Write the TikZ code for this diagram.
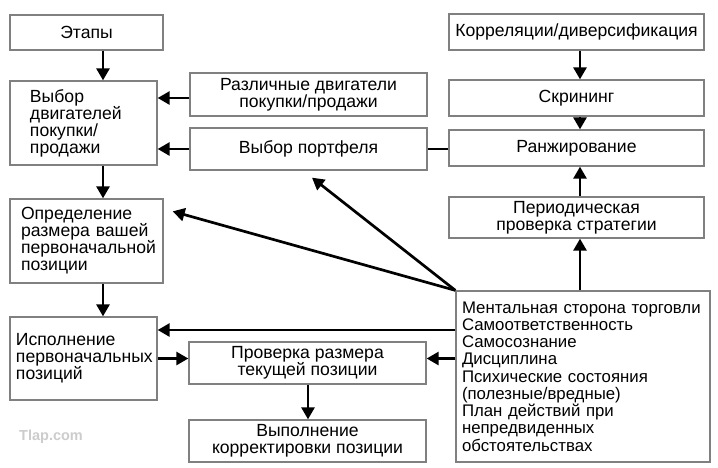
\documentclass[tikz,border=0pt]{standalone}
\usepackage{fontspec}
\setmainfont{Liberation Sans}
\usetikzlibrary{arrows.meta,calc}
\begin{document}
\begin{tikzpicture}[x=1pt,y=-1pt,
  box/.style={draw=black!50,line width=1.3pt,rectangle,inner sep=0pt,
    font=\fontsize{17.6}{17}\selectfont},
  cbox/.style={box,align=center},
  lbox/.style={box,align=left,inner ysep=0pt},
  arr/.style={line width=2.7pt,-{Triangle[length=12pt,width=13pt]}},
  ln/.style={line width=2.7pt}]
\useasboundingbox (0,0) rectangle (718,467);
% boxes
\node[cbox,minimum width=153,minimum height=35] (A) at (86.5,32.5) {Этапы};
\node[lbox,minimum height=84,inner xsep=20pt,text width=107pt] (B) at (83.5,123)
  {Выбор\\двигателей\\покупки/\\продажи};
\node[cbox,minimum width=237,minimum height=43] (C) at (308.5,94.5)
  {Различные двигатели\\покупки/продажи};
\node[cbox,minimum width=237,minimum height=42] (D) at (308.5,149) {Выбор портфеля};
\node[lbox,minimum height=84,inner xsep=11pt,text width=131pt] (E) at (86.5,241)
  {Определение\\размера~вашей\\первоначальной\\позиции};
\node[lbox,minimum height=83,inner xsep=6pt,text width=135pt] (F) at (83.5,358.5)
  {Исполнение\\первоначальных\\позиций};
\node[cbox,minimum width=237,minimum height=42] (G) at (307.5,363)
  {Проверка размера\\текущей позиции};
\node[cbox,minimum width=237,minimum height=42] (H) at (307.5,441)
  {Выполнение\\корректировки позиции};
\node[cbox,minimum width=255,minimum height=36] (I) at (576.5,32) {Корреляции/диверсификация};
\node[cbox,minimum width=255,minimum height=36] (J) at (576.5,98) {Скрининг};
\node[cbox,minimum width=255,minimum height=36] (K) at (576.5,148) {Ранжирование};
\node[cbox,minimum width=255,minimum height=41] (L) at (576.5,217.5)
  {Периодическая\\проверка стратегии};
\node[lbox,minimum height=171,inner xsep=6pt,text width=242pt,
  font=\fontsize{16.8}{17.25}\selectfont] (M) at (583,376.5)
  {Ментальная~сторона~торговли\\Самоответственность\\Самосознание\\Дисциплина\\
   Психические~состояния\\(полезные/вредные)\\План~действий~при\\непредвиденных\\обстоятельствах};
\node[font=\bfseries\fontsize{14.5}{14.5}\selectfont,text=black!20,inner sep=0pt,anchor=west] (wm) at (19,437) {Tlap.com};
% guide coordinates
\coordinate (colL) at (103,0);
\coordinate (colM) at (308,0);
\coordinate (colR) at (580,0);
\coordinate (rowC) at (0,98);
\coordinate (rowMF) at (0,330);
% connectors
\draw[arr] (colL |- A.south) -- (colL |- B.north);
\draw[arr] (colL |- B.south) -- (colL |- E.north);
\draw[arr] (colL |- E.south) -- (colL |- F.north);
\draw[arr] (rowC -| C.west) -- (rowC -| B.east);
\draw[arr] (D.west) -- (D.west -| B.east);
\draw[ln] (D.east) -- (D.east -| K.west);
\draw[arr] (F.east) -- (F.east -| G.west);
\draw[arr] (F.east -| M.west) -- (F.east -| G.east);
\draw[arr] (rowMF -| M.west) -- (rowMF -| F.east);
\draw[arr] (M.north west) -- ([xshift=9pt,yshift=-13pt]E.north east);
\draw[arr] (M.north west) -- ([xshift=3.5pt,yshift=-7pt]D.south);
\draw[arr] (colM |- G.south) -- (colM |- H.north);
\draw[arr] (colR |- M.north) -- (colR |- L.south);
\draw[arr] (colR |- L.north) -- (colR |- K.south);
\draw[arr] (colR |- I.south) -- (colR |- J.north);
\draw[arr] (colR |- J.south) -- (colR |- K.north);
\end{tikzpicture}
\end{document}
